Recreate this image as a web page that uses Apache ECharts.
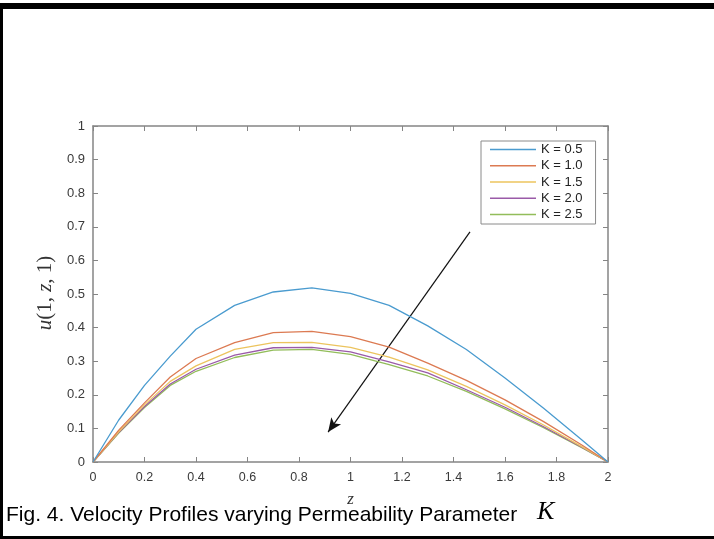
<!DOCTYPE html>
<html>
<head>
<meta charset="utf-8">
<script src="https://cdn.jsdelivr.net/npm/echarts@6/dist/echarts.min.js"></script>
<style>
html,body{margin:0;padding:0;background:#fff;}
#c{width:714px;height:539px;}
</style>
</head>
<body>
<div id="c"></div>
<script>
const zVals = [0, 0.1, 0.2, 0.3, 0.4, 0.55, 0.7, 0.85, 1.0, 1.15, 1.3, 1.45, 1.6, 1.75, 1.9, 2.0];
const seriesNames = ['K = 0.5', 'K = 1.0', 'K = 1.5', 'K = 2.0', 'K = 2.5'];
const uK05 = [0, 0.125, 0.228, 0.315, 0.395, 0.466, 0.506, 0.518, 0.502, 0.466, 0.405, 0.335, 0.25, 0.16, 0.065, 0];
const uK10 = [0, 0.095, 0.176, 0.253, 0.308, 0.355, 0.385, 0.389, 0.373, 0.342, 0.294, 0.243, 0.185, 0.12, 0.05, 0];
const uK15 = [0, 0.09, 0.17, 0.24, 0.286, 0.335, 0.355, 0.356, 0.341, 0.312, 0.274, 0.225, 0.17, 0.11, 0.045, 0];
const uK20 = [0, 0.088, 0.165, 0.232, 0.276, 0.318, 0.34, 0.341, 0.328, 0.298, 0.265, 0.215, 0.163, 0.105, 0.043, 0];
const uK25 = [0, 0.086, 0.162, 0.228, 0.27, 0.311, 0.333, 0.335, 0.32, 0.29, 0.256, 0.21, 0.158, 0.102, 0.042, 0];
const xTicks = [0, 0.2, 0.4, 0.6, 0.8, 1, 1.2, 1.4, 1.6, 1.8, 2];
const yTicks = [0, 0.1, 0.2, 0.3, 0.4, 0.5, 0.6, 0.7, 0.8, 0.9, 1];
const arrowFrom = [1.464, 0.685];
const arrowTo = [0.913, 0.089];

const colors = ['#4a9bcf', '#dc7a52', '#ecc45e', '#9a5aa8', '#92bd5a'];
const allData = [uK05, uK10, uK15, uK20, uK25];

const chart = echarts.init(document.getElementById('c'));
const axisColor = '#858585';
const labelFont = { color: '#3a3a3a', fontSize: 12.5, fontFamily: 'Liberation Sans, Arial, sans-serif' };

const series = allData.map((arr, i) => {
  const s = {
    name: seriesNames[i],
    type: 'line',
    symbol: 'none',
    xAxisIndex: 0,
    yAxisIndex: 0,
    lineStyle: { color: colors[i], width: 1.3 },
    itemStyle: { color: colors[i] },
    data: zVals.map((z, j) => [z, arr[j]]),
    z: 10 - i
  };
  if (i === 0) {
    s.markLine = {
      silent: true,
      symbol: ['none', 'arrow'],
      symbolSize: [9, 14],
      label: { show: false },
      lineStyle: { color: '#111', type: 'solid', width: 1.2 },
      data: [[{ coord: arrowFrom }, { coord: arrowTo }]],
      animation: false
    };
  }
  return s;
});

const fmt = v => String(+v.toFixed(1));
const xAxisBase = {
  type: 'value', min: 0, max: 2, interval: 0.2,
  axisLine: { show: true, onZero: false, lineStyle: { color: axisColor, width: 1.5 } },
  axisTick: { show: true, inside: true, length: 5, lineStyle: { color: axisColor } },
  splitLine: { show: false }
};
const yAxisBase = {
  type: 'value', min: 0, max: 1, interval: 0.1,
  axisLine: { show: true, onZero: false, lineStyle: { color: axisColor, width: 1.5 } },
  axisTick: { show: true, inside: true, length: 5, lineStyle: { color: axisColor } },
  splitLine: { show: false }
};

chart.setOption({
  animation: false,
  backgroundColor: '#fff',
  grid: { left: 93, right: 106, top: 126, bottom: 77, containLabel: false },
  legend: {
    data: seriesNames.map((n, i) => ({ name: n, icon: 'rect', itemStyle: { color: colors[i] } })),
    orient: 'vertical',
    left: 481, top: 141,
    padding: [2, 13, 3, 9],
    itemGap: 3.25,
    itemWidth: 46,
    itemHeight: 1.3,
    borderColor: '#8a8a8a',
    borderWidth: 1,
    borderRadius: 0,
    backgroundColor: '#fff',
    textStyle: { color: '#222', fontSize: 13, lineHeight: 12, fontFamily: 'Liberation Sans, Arial, sans-serif' }
  },
  xAxis: [
    Object.assign({}, xAxisBase, {
      position: 'bottom',
      axisLabel: Object.assign({ show: true, margin: 9, formatter: fmt }, labelFont),
      name: 'z', nameLocation: 'middle', nameGap: 29,
      nameTextStyle: { fontFamily: 'Liberation Serif, serif', fontStyle: 'italic', fontSize: 17, color: '#333' }
    }),
    Object.assign({}, xAxisBase, { position: 'top', axisLabel: { show: false } })
  ],
  yAxis: [
    Object.assign({}, yAxisBase, {
      position: 'left',
      axisLabel: Object.assign({ show: true, margin: 8, formatter: fmt }, labelFont, { fontSize: 13 })
    }),
    Object.assign({}, yAxisBase, { position: 'right', axisLabel: { show: false } })
  ],
  series: series,
  graphic: [
    { type: 'rect', shape: { x: 0, y: 3, width: 714, height: 6 }, style: { fill: '#000' }, z: 100 },
    { type: 'rect', shape: { x: 0, y: 3, width: 3, height: 536 }, style: { fill: '#000' }, z: 100 },
    { type: 'rect', shape: { x: 0, y: 536, width: 714, height: 3 }, style: { fill: '#000' }, z: 100 },
    {
      type: 'text', x: 45, y: 293, rotation: Math.PI / 2, z: 100,
      style: {
        text: '{i|u}{n|(1, }{i|z}{n|, 1)}',
        align: 'center', verticalAlign: 'middle',
        rich: {
          i: { fontFamily: 'Liberation Serif, serif', fontStyle: 'italic', fontSize: 21, fill: '#333' },
          n: { fontFamily: 'Liberation Serif, serif', fontSize: 21, fill: '#333' }
        }
      }
    },
    {
      type: 'text', x: 6, y: 515, z: 100,
      style: {
        text: 'Fig. 4. Velocity Profiles varying Permeability Parameter',
        fontFamily: 'Liberation Sans, Arial, sans-serif', fontSize: 21, fill: '#000',
        verticalAlign: 'middle'
      }
    },
    {
      type: 'text', x: 537, y: 512, z: 100,
      style: {
        text: 'K',
        fontFamily: 'Liberation Serif, serif', fontStyle: 'italic', fontSize: 26, fill: '#000',
        verticalAlign: 'middle'
      }
    }
  ]
});
</script>
</body>
</html>
